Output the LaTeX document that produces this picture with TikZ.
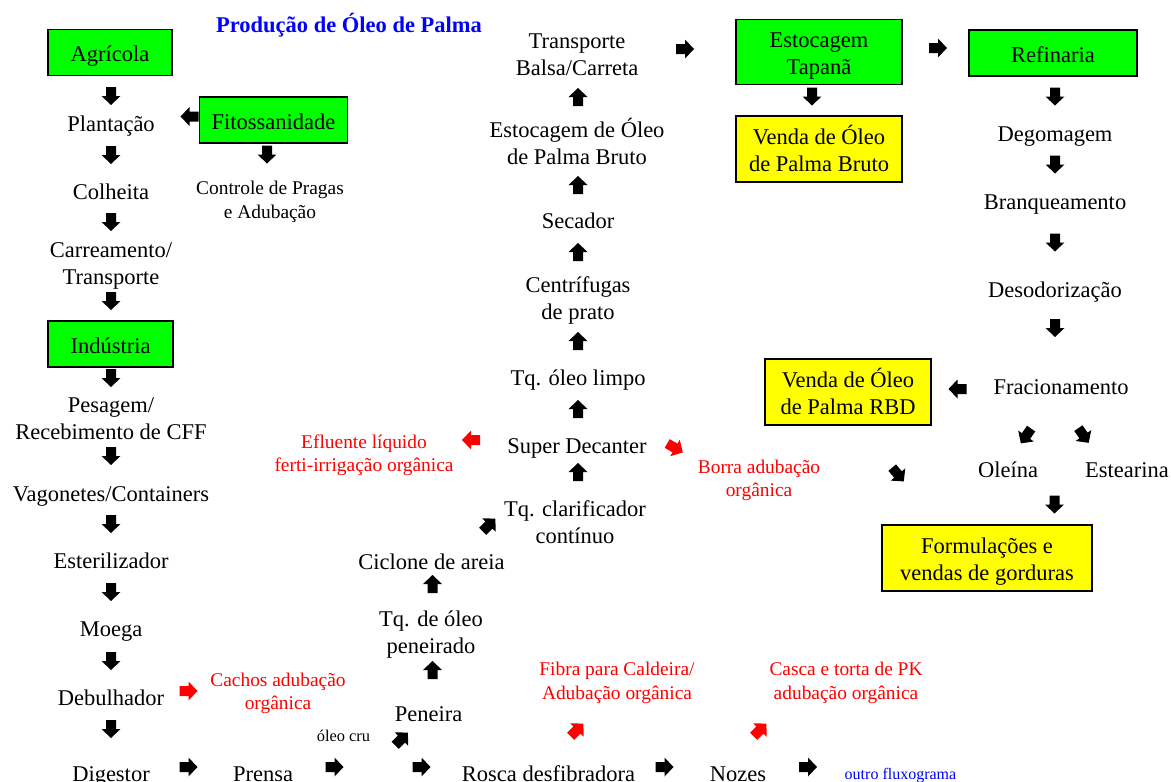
\documentclass[tikz,border=0pt]{standalone}
\usepackage{fontspec}
\setmainfont{Liberation Serif}
\definecolor{gr}{RGB}{0,255,0}
\definecolor{yl}{RGB}{255,255,0}
\definecolor{tblue}{RGB}{0,0,255}
\newcommand\bfirst{\rule[-8.25pt]{0pt}{34.5pt}}
\newcommand\blast{\rule[-8.25pt]{0pt}{27.5pt}}
\tikzset{
  txt/.style={font=\fontsize{22.5}{27}\selectfont, align=center, inner sep=0pt, execute at begin node=\strut, yshift=-2.5pt},
  rtxt/.style={font=\fontsize{19.4}{23.5}\selectfont, text=red, align=center, inner sep=0pt, execute at begin node=\strut, yshift=-2.5pt},
  stxt/.style={align=center, inner sep=0pt, execute at begin node=\strut, yshift=-1.5pt},
  boxbase/.style={draw=black, line width=1.3pt, inner sep=0pt, align=center, font=\fontsize{22.5}{27.5}\selectfont},
  gbox/.style={boxbase, fill=gr},
  ybox/.style={boxbase, fill=yl},
  oneline/.style={text height=20pt, text depth=2pt},
  barrow/.pic={\fill[black] (-9,-5) -- (0,-5) -- (0,-9.5) -- (9,0) -- (0,9.5) -- (0,5) -- (-9,5) -- cycle;},
  rarrow/.pic={\fill[red] (-9,-5) -- (0,-5) -- (0,-9.5) -- (9,0) -- (0,9.5) -- (0,5) -- (-9,5) -- cycle;}
}
\begin{document}
\begin{tikzpicture}[x=1pt,y=-1pt]
\useasboundingbox (0,0) rectangle (1171,782);
% title
\node[font=\fontsize{22.5}{27}\selectfont\bfseries, text=tblue, inner sep=0pt] (title) at (349,25) {Produção de Óleo de Palma};

% left column
\node[gbox, oneline, minimum width=124pt, minimum height=46pt] (agri) at (110,52.5) {Agrícola};
\pic (a1) at (111,96) [rotate=-90] {barrow};
\node[txt] (plant) at (111,123.5) {Plantação};
\pic (a2) at (111,155) [rotate=-90] {barrow};
\node[txt] (colh) at (111,192) {Colheita};
\pic (a3) at (111,222) [rotate=-90] {barrow};
\node[txt] (carr) at (111,265) {Carreamento/\\\strut Transporte};
\pic (a4) at (111,301) [rotate=-90] {barrow};
\node[gbox, oneline, minimum width=125pt, minimum height=46pt] (ind) at (110.5,344) {Indústria};
\pic (a5) at (111,378) [rotate=-90] {barrow};
\node[txt] (pes) at (111,420.5) {Pesagem/\\\strut Recebimento de CFF};
\pic (a6) at (111,456) [rotate=-90] {barrow};
\node[txt] (vag) at (111,494) {Vagonetes/Containers};
\pic (a7) at (111,524) [rotate=-90] {barrow};
\node[txt] (ester) at (111,560.5) {Esterilizador};
\pic (a8) at (111,592) [rotate=-90] {barrow};
\node[txt] (moega) at (111,629) {Moega};
\pic (a9) at (111,661) [rotate=-90] {barrow};
\node[txt] (debul) at (111,697.5) {Debulhador};
\pic (a10) at (111,729) [rotate=-90] {barrow};
\node[txt] (dig) at (111,774) {Digestor};

% fitossanidade
\node[gbox, oneline, minimum width=148pt, minimum height=46pt] (fito) at (273.5,120) {Fitossanidade};
\pic (af1) at (189.5,116.5) [rotate=180] {barrow};
\pic (af2) at (267,154.5) [rotate=-90] {barrow};
\node[stxt, font=\fontsize{19.4}{24}\selectfont, yshift=-1pt] (ctrl) at (270,201) {Controle de Pragas\\\strut e Adubação};

% debulhador side
\pic (ar1) at (188.5,691) [rotate=0] {rarrow};
\node[rtxt] (cachos) at (278,692.5) {Cachos adubação\\\strut orgânica};

% bottom row
\pic (b1) at (188.5,767) {barrow};
\node[txt] (prensa) at (263,774) {Prensa};
\pic (b2) at (334.5,767) {barrow};
\node[stxt, font=\fontsize{16.4}{20}\selectfont] (oleocru) at (343.5,736) {óleo cru};
\pic (b3) at (421.5,767) {barrow};
\node[txt] (rosca) at (548.5,774) {Rosca desfibradora};
\pic (b4) at (664.5,767) {barrow};
\node[txt] (nozes) at (738,774) {Nozes};
\pic (b5) at (808,767) {barrow};
\node[stxt, font=\fontsize{16}{20}\selectfont, text=tblue] (outro) at (900.5,774) {outro fluxograma};

\pic (rf) at (577,730) [rotate=45] {rarrow};
\node[rtxt] (fibra) at (617,682) {Fibra para Caldeira/\\\strut Adubação orgânica};
\pic (rc) at (760,730) [rotate=45] {rarrow};
\node[rtxt] (casca) at (846,682) {Casca e torta de PK\\\strut adubação orgânica};

% middle column
\pic (m1) at (401.5,739) [rotate=45] {barrow};
\node[txt] (peneira) at (428.5,713.5) {Peneira};
\pic (m2) at (432.5,670) [rotate=90] {barrow};
\node[txt] (tqpen) at (431,633.5) {Tq. de óleo\\\strut peneirado};
\pic (m3) at (432.5,584) [rotate=90] {barrow};
\node[txt] (ciclone) at (431.5,561.5) {Ciclone de areia};
\pic (m4) at (489,525) [rotate=45] {barrow};
\node[txt] (tqclar) at (575,523.5) {Tq. clarificador\\\strut contínuo};
\pic (m5) at (578,472) [rotate=90] {barrow};
\node[txt] (super) at (577,445.5) {Super Decanter};
\pic (re) at (471,440) [rotate=180] {rarrow};
\node[rtxt] (eflu) at (364,454) {Efluente líquido\\\strut ferti-irrigação orgânica};
\pic (rb) at (675,448) [rotate=-30] {rarrow};
\node[rtxt] (borra) at (759,479.5) {Borra adubação\\\strut orgânica};
\pic (m6) at (578,409) [rotate=90] {barrow};
\node[txt] (tqlimpo) at (578,377.5) {Tq. óleo limpo};
\pic (m7) at (578,341) [rotate=90] {barrow};
\node[txt] (centr) at (578,299.5) {Centrífugas\\\strut de prato};
\pic (m8) at (578,252) [rotate=90] {barrow};
\node[txt] (secador) at (578,221) {Secador};
\pic (m9) at (578,185) [rotate=90] {barrow};
\node[txt] (estoc) at (577,143) {Estocagem de Óleo\\\strut de Palma Bruto};
\pic (m10) at (578,97) [rotate=90] {barrow};
\node[txt] (transp) at (577,56.5) {Transporte\\\strut Balsa/Carreta};
\pic (m11) at (685,49) {barrow};

% right part
\node[gbox, minimum width=166pt, minimum height=65pt] (tapana) at (819,52) {\bfirst Estocagem\\\blast Tapanã};
\pic (r1) at (812,96.5) [rotate=-90] {barrow};
\node[ybox, minimum width=166pt, minimum height=66pt] (vbruto) at (819,149) {\bfirst Venda de Óleo\\\blast de Palma Bruto};
\pic (r2) at (938,48) {barrow};
\node[gbox, oneline, minimum width=168pt, minimum height=46pt] (refin) at (1053,53) {Refinaria};
\pic (r3) at (1055,96.5) [rotate=-90] {barrow};
\node[txt] (degom) at (1055,133.5) {Degomagem};
\pic (r4) at (1055,164.5) [rotate=-90] {barrow};
\node[txt] (branq) at (1055,201.5) {Branqueamento};
\pic (r5) at (1055,242.5) [rotate=-90] {barrow};
\node[txt] (desod) at (1055,289.5) {Desodorização};
\pic (r6) at (1055,328) [rotate=-90] {barrow};
\node[txt] (frac) at (1061,386.5) {Fracionamento};
\pic (r7) at (957.5,389) [rotate=180] {barrow};
\node[ybox, minimum width=166pt, minimum height=66pt] (vrbd) at (848,392) {\bfirst Venda de Óleo\\\blast de Palma RBD};
\pic (r8) at (1026,436) [rotate=-125] {barrow};
\pic (r9) at (1083.5,435.5) [rotate=-55] {barrow};
\node[txt] (oleina) at (1008,469.5) {Oleína};
\node[txt] (estear) at (1127,469.5) {Estearina};
\pic (r10) at (898,474.5) [rotate=-50] {barrow};
\pic (r11) at (1054.5,504.5) [rotate=-90] {barrow};
\node[ybox, minimum width=210pt, minimum height=66pt] (formul) at (987,558) {\bfirst Formulações e\\\blast vendas de gorduras};
\end{tikzpicture}
\end{document}
